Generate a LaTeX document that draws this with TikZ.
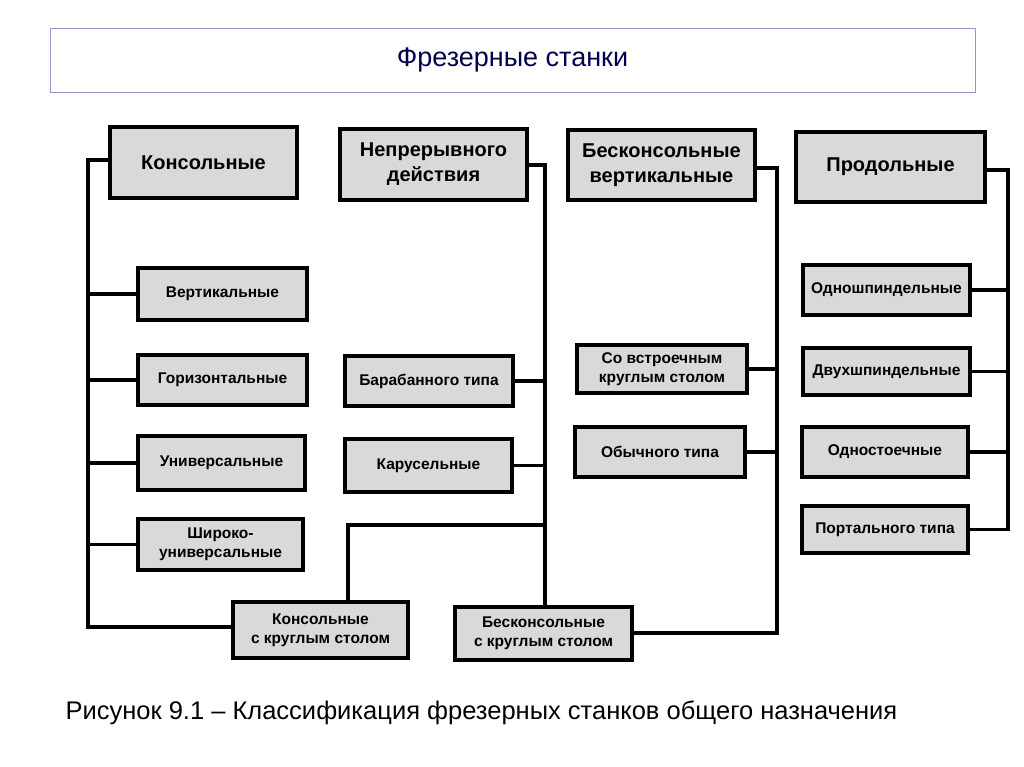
\documentclass[tikz,border=0pt]{standalone}
\usepackage{fontspec}
\setmainfont{Liberation Sans}
\begin{document}
\begin{tikzpicture}[x=1pt,y=-1pt,
  bx/.style={draw=black,line width=3.5pt,fill=gray!30,font=\bfseries\fontsize{15.5}{19}\selectfont,align=center,inner sep=1pt},
  hd/.style={bx,font=\bfseries\fontsize{20}{25}\selectfont},
  ln/.style={line width=3.5pt,line cap=rect}]
\useasboundingbox (0,0) rectangle (1024,767);
\node[draw=gray!60!blue!60,line width=0.8pt,minimum width=925pt,minimum height=64pt,font=\fontsize{27}{32}\selectfont,text=blue!30!black] (t) at (512.5,60) {Фрезерные станки};
% headers
\node[hd,minimum width=187pt,minimum height=71pt] (k) at (203.5,162.5) {Консольные};
\node[hd,minimum width=187pt,minimum height=71pt] (n) at (433.5,164.5) {Непрерывного\\действия};
\node[hd,minimum width=187pt,minimum height=70pt] (b) at (661.5,165) {Бесконсольные\\вертикальные};
\node[hd,minimum width=189pt,minimum height=70pt] (p) at (890.5,167) {Продольные};
% left column
\node[bx,minimum width=169pt,minimum height=52pt] (v) at (222.5,294) {Вертикальные};
\node[bx,minimum width=169pt,minimum height=50pt] (g) at (222.5,380) {Горизонтальные};
\node[bx,minimum width=167pt,minimum height=54pt] (u) at (221.5,463) {Универсальные};
\node[bx,minimum width=165pt,minimum height=51pt] (s) at (220.5,544.5) {Широко-\\универсальные};
\node[bx,minimum width=175pt,minimum height=56pt] (k1) at (320.5,630) {Консольные\\с круглым столом};
% middle
\node[bx,minimum width=168pt,minimum height=50pt] (bar) at (429,381) {Барабанного типа};
\node[bx,minimum width=167pt,minimum height=53pt] (kar) at (428.5,465.5) {Карусельные};
\node[bx,minimum width=177pt,minimum height=53pt] (b1) at (543.5,633.5) {Бесконсольные\\с круглым столом};
% third
\node[bx,minimum width=170pt,minimum height=48pt] (sv) at (662,369) {Со встроечным\\круглым столом};
\node[bx,minimum width=170pt,minimum height=50pt] (ob) at (660,452) {Обычного типа};
% right
\node[bx,minimum width=167pt,minimum height=50pt] (o1) at (886.5,290) {Одношпиндельные};
\node[bx,minimum width=167pt,minimum height=47pt] (o2) at (886.5,371.5) {Двухшпиндельные};
\node[bx,minimum width=166pt,minimum height=50pt] (o3) at (885,452) {Одностоечные};
\node[bx,minimum width=166pt,minimum height=47pt] (o4) at (885,529.5) {Портального типа};
% connectors
\draw[ln] (k.west |- 0,160) -- (88,160) -- (88,627) -- (k1.west |- 0,627);
\draw[ln] (88,294) -- (v.west);
\draw[ln] (88,380) -- (g.west);
\draw[ln] (88,463) -- (u.west);
\draw[ln] (88,544.5) -- (s.west);
\draw[ln] (n.east |- 0,165) -- (545,165) -- (b1.north -| 545,0);
\draw[ln] (bar.east) -- (545,381);
\draw[ln] (kar.east) -- (545,465.5);
\draw[ln] (k1.north -| 348,0) -- (348,525) -- (545,525);
\draw[ln] (b.east |- 0,168) -- (777,168) -- (777,633) -- (b1.east |- 0,633);
\draw[ln] (sv.east) -- (777,369);
\draw[ln] (ob.east) -- (777,452);
\draw[ln] (p.east |- 0,170) -- (1008,170) -- (1008,529.5) -- (o4.east);
\draw[ln] (o1.east) -- (1008,290);
\draw[ln] (o2.east) -- (1008,371.5);
\draw[ln] (o3.east) -- (1008,452);
\node[anchor=west,font=\fontsize{25.5}{30}\selectfont] (cap) at (62,713) {Рисунок 9.1 – Классификация фрезерных станков общего назначения};
\end{tikzpicture}
\end{document}
